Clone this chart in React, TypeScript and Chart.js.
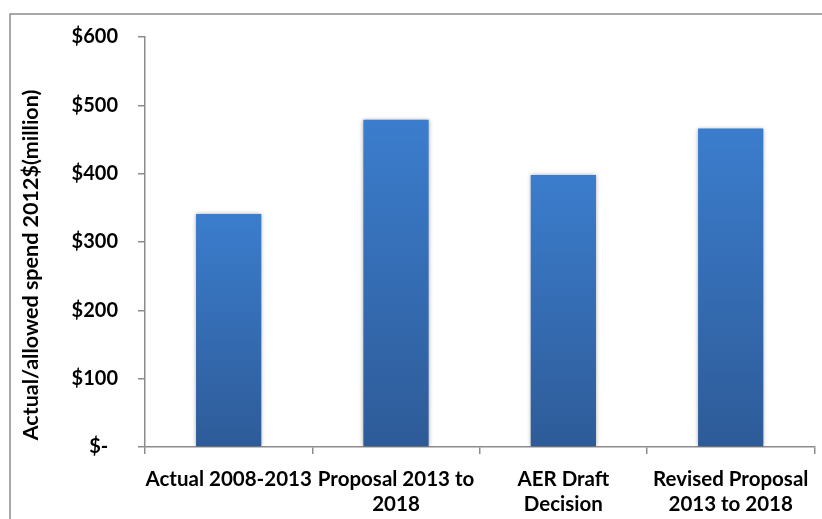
import React, { useEffect, useRef } from "react";
import { Chart, registerables } from "chart.js";

Chart.register(...registerables);

const categories: (string | string[])[] = [
  "Actual 2008-2013",
  ["Proposal 2013 to", "2018"],
  ["AER Draft", "Decision"],
  ["Revised Proposal", "2013 to 2018"],
];
const spend: number[] = [341, 479, 398, 466];
const yTicks: number[] = [0, 100, 200, 300, 400, 500, 600];
const yTitle = "Actual/allowed spend 2012$(million)";

const FONT = "Lato, 'Open Sans', sans-serif";

const frame = {
  id: "frame",
  beforeDraw(chart: any) {
    const c = chart.ctx;
    c.save();
    c.strokeStyle = "#8c8c8c";
    c.lineWidth = 1.5;
    c.beginPath();
    c.moveTo(10, chart.height);
    c.lineTo(10, 14);
    c.lineTo(chart.width, 14);
    c.stroke();
    c.restore();
  },
  beforeDatasetsDraw(chart: any) {
    const c = chart.ctx;
    c.save();
    c.shadowColor = "rgba(0,0,0,0.35)";
    c.shadowBlur = 4;
    c.shadowOffsetX = 0;
    c.shadowOffsetY = 0;
  },
  afterDatasetsDraw(chart: any) {
    chart.ctx.restore();
  },
  afterDraw(chart: any) {
    const c = chart.ctx;
    c.save();
    c.translate(31, 265);
    c.rotate(-Math.PI / 2);
    c.font = `bold 21.5px ${FONT}`;
    c.fillStyle = "#000";
    c.textAlign = "center";
    c.textBaseline = "middle";
    c.fillText(yTitle, 0, 0);
    c.restore();
  },
};

export default function App() {
  const ref = useRef<HTMLCanvasElement>(null);
  useEffect(() => {
    const canvas = ref.current!;
    const chart = new Chart(canvas, {
      type: "bar",
      data: {
        labels: categories as any,
        datasets: [
          {
            data: spend,
            backgroundColor: (ctx: any) => {
              const ch = ctx.chart;
              const y = ch.scales?.y;
              if (!y || ctx.raw == null) return "#3572bd";
              const top = y.getPixelForValue(ctx.raw);
              const bottom = y.getPixelForValue(0);
              if (!isFinite(top) || !isFinite(bottom) || top === bottom) return "#3572bd";
              const g = ch.ctx.createLinearGradient(0, top, 0, bottom);
              g.addColorStop(0, "#3b7dcd");
              g.addColorStop(1, "#2e5b98");
              return g;
            },
            borderWidth: 0,
            barPercentage: 0.78,
            categoryPercentage: 0.5,
          },
        ],
      },
      options: {
        responsive: false,
        animation: false,
        layout: { padding: { top: 37, right: 5, left: 0, bottom: 0 } },
        plugins: { legend: { display: false }, tooltip: { enabled: false } },
        scales: {
          x: {
            grid: {
              drawOnChartArea: false,
              drawTicks: true,
              tickLength: 7,
              color: "#8c8c8c",
              lineWidth: 1.5,
            },
            border: { color: "#8c8c8c", width: 1.5 },
            ticks: {
              color: "#000",
              font: { family: FONT, size: 20.5, weight: "bold", lineHeight: 1.22 },
              padding: 13,
              maxRotation: 0,
              autoSkip: false,
            },
            afterFit: (s: any) => {
              s.height = 72;
            },
          },
          y: {
            min: 0,
            max: 600,
            afterBuildTicks: (s: any) => {
              s.ticks = yTicks.map((v) => ({ value: v }));
            },
            grid: {
              drawOnChartArea: false,
              drawTicks: true,
              tickLength: 7,
              color: "#8c8c8c",
              lineWidth: 1.5,
            },
            border: { color: "#8c8c8c", width: 1.5 },
            ticks: {
              color: "#000",
              font: { family: FONT, size: 20, weight: "bold" },
              padding: 20,
              callback: (v: any) => (Number(v) === 0 ? "$-  " : "$" + v),
            },
            title: { display: false },
            afterFit: (s: any) => {
              s.width = 145;
            },
          },
        },
      },
      plugins: [frame],
    });
    return () => chart.destroy();
  }, []);
  return (
    <div style={{ position: "fixed", left: 0, top: 0, width: 822, height: 519, background: "#fff" }}>
      <canvas ref={ref} width={822} height={519} style={{ display: "block" }} />
    </div>
  );
}
